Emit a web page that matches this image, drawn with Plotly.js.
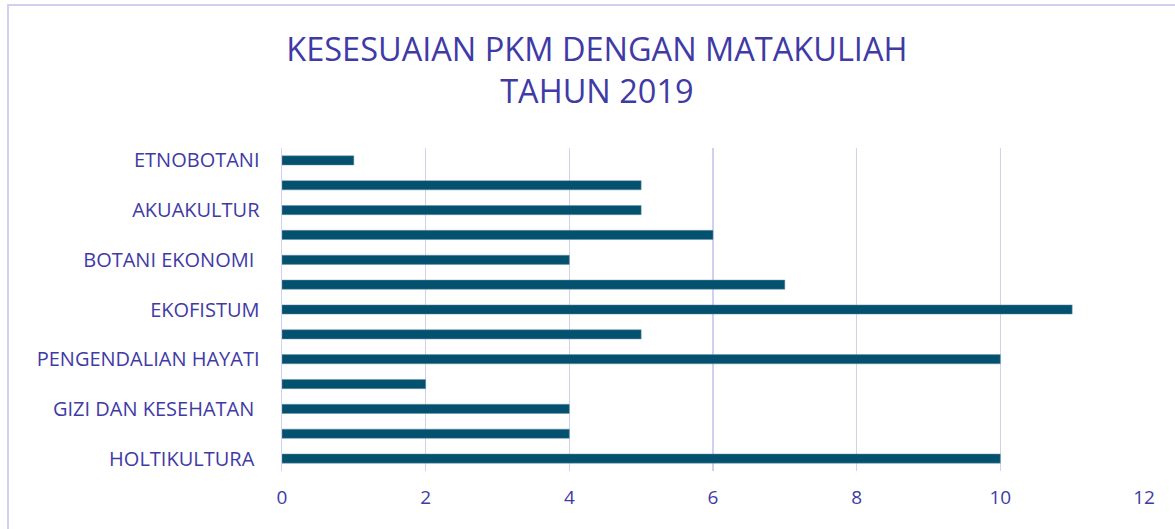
<!DOCTYPE html>
<html>
<head>
<meta charset="utf-8">
<script src="https://cdn.plot.ly/plotly-3.0.1.min.js"></script>
<style>
html,body{margin:0;padding:0;background:#fff;}
#chart{width:1175px;height:529px;}
</style>
</head>
<body>
<div id="chart"></div>
<script>
// Categories from bottom to top (Excel skipped every other label)
var categories = ["HOLTIKULTURA ", "", "GIZI DAN KESEHATAN ", "", "PENGENDALIAN HAYATI", "", "EKOFISTUM", "", "BOTANI EKONOMI ", "", "AKUAKULTUR", "", "ETNOBOTANI"];
var values = [10, 4, 4, 2, 10, 5, 11, 7, 4, 6, 5, 5, 1];
var xTicks = [0, 2, 4, 6, 8, 10, 12];

var positions = categories.map(function(c, i){ return i; });
var txtColor = "#3f3aa6";
var gridColor = "#d2cff1";
var fontFam = "Open Sans, Lato, sans-serif";

var trace = {
  type: "bar",
  orientation: "h",
  x: values,
  y: positions,
  marker: {color: "#03516f", line: {color: "#6d93a8", width: 0.5}},
  width: 0.37,
  hoverinfo: "x"
};

var L = 282, R = 1144, T = 148, B = 471;
var pw = R - L, ph = B - T;
function px2x(p){ return (p - L) / pw; }
function py2y(p){ return (B - p) / ph; }

var layout = {
  width: 1175, height: 529,
  margin: {l: L, r: 1175 - R, t: T, b: 529 - B, pad: 0},
  paper_bgcolor: "#ffffff",
  plot_bgcolor: "#ffffff",
  showlegend: false,
  title: {
    text: "KESESUAIAN PKM DENGAN MATAKULIAH<br>TAHUN 2019",
    font: {family: fontFam, size: 32.5, color: txtColor, lineposition: "none"},
    x: 0.508, xanchor: "center",
    y: 0.885, yanchor: "top"
  },
  xaxis: {
    range: [0, 12],
    tickvals: xTicks,
    ticktext: xTicks.map(String),
    showgrid: true, gridcolor: gridColor, gridwidth: 1.5,
    zeroline: false, showline: false,
    ticks: "", ticklabelstandoff: 13,
    tickfont: {family: fontFam, size: 19, color: txtColor},
    fixedrange: true
  },
  yaxis: {
    range: [-0.5, 12.5],
    tickvals: positions,
    ticktext: categories,
    showgrid: false, zeroline: false,
    showline: true, linecolor: gridColor, linewidth: 1.5,
    ticks: "", ticklabelstandoff: 17,
    tickfont: {family: fontFam, size: 20, color: txtColor},
    fixedrange: true
  },
  shapes: [{
    type: "rect", xref: "paper", yref: "paper", layer: "below",
    x0: px2x(8), x1: px2x(1190), y0: py2y(545), y1: py2y(5),
    line: {color: "#d2d0f0", width: 2}, fillcolor: "rgba(0,0,0,0)"
  }]
};

Plotly.newPlot("chart", [trace], layout, {displayModeBar: false, staticPlot: true});
</script>
</body>
</html>
